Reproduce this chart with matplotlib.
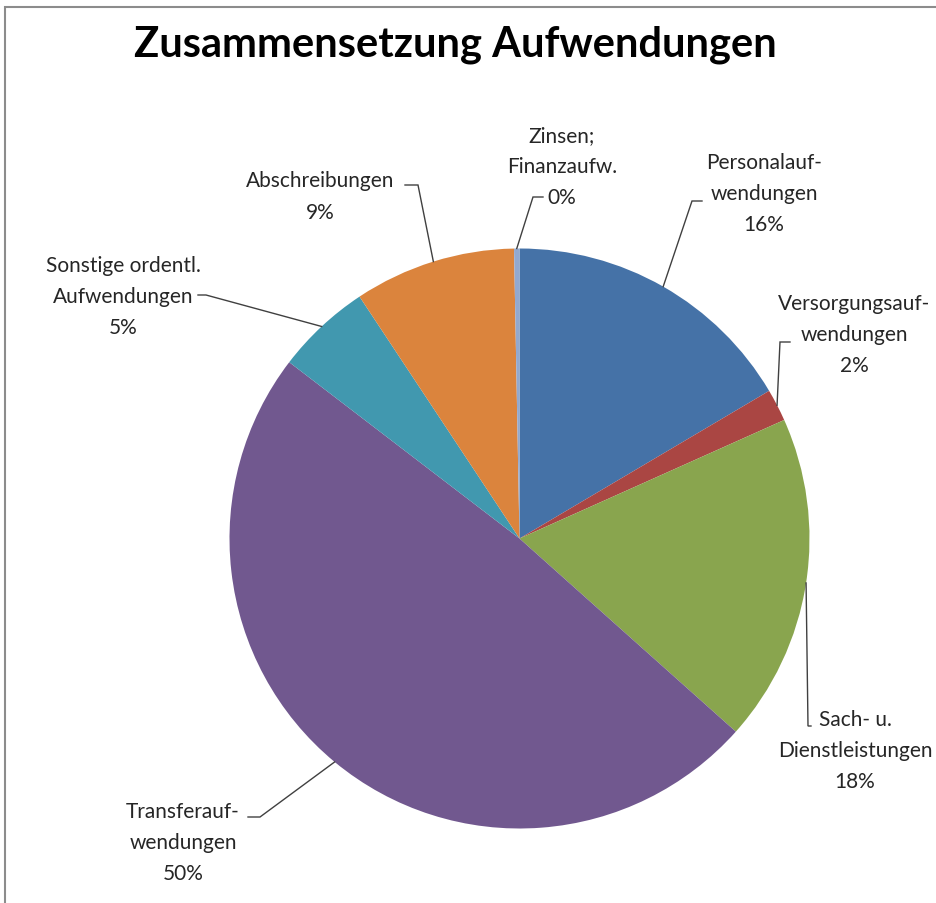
import matplotlib
matplotlib.use("Agg")
import matplotlib.pyplot as plt
import numpy as np
from matplotlib.patches import Rectangle

# ---- data ----
categories = ["Personalauf-\nwendungen", "Versorgungsauf-\nwendungen", "Sach- u.\nDienstleistungen",
              "Transferauf-\nwendungen", "Sonstige ordentl.\nAufwendungen", "Abschreibungen",
              "Zinsen;\nFinanzaufw."]
values = [16.5, 1.8, 18.3, 48.8, 5.3, 9.0, 0.3]
pct_labels = ["16%", "2%", "18%", "50%", "5%", "9%", "0%"]
colors = ["#4572A7", "#AA4643", "#89A54E", "#71588F", "#4198AF", "#DB843D", "#93A9CF"]

W, H = 937, 904
CX, CY, R = 519.5, 539.5, 290.0

# label layout (image pixel coordinates): text centre, elbow, end of leader
label_pos = [(764, 194), (854, 335), (855, 751), (183, 843), (123, 297), (320, 197), (562, 167)]
elbow_pos = [(692, 202), (780, 343), (808, 727), (260, 818), (206, 296), (418, 186), (533, 198)]
end_pos = [(702, 202), (790, 343), (811, 727), (248, 818), (198, 296), (405, 186), (543, 198)]

plt.rcParams['font.family'] = ['Lato', 'DejaVu Sans']

fig = plt.figure(figsize=(W / 100, H / 100), dpi=100)
fig.patch.set_facecolor("white")

# chart frame
fig.patches.append(Rectangle((5 / W, -0.05), 1.2, 1 - 8 / H + 0.05, transform=fig.transFigure,
                             fill=False, edgecolor="#8c8c8c", linewidth=1.5))

ax = fig.add_axes([(CX - R) / W, 1 - (CY + R) / H, 2 * R / W, 2 * R / H])
wedges, _ = ax.pie(values, colors=colors, startangle=90, counterclock=False, radius=1,
                   wedgeprops=dict(linewidth=0))
ax.set_xlim(-1, 1)
ax.set_ylim(-1, 1)
ax.set_aspect("equal")
ax.axis("off")


def to_data(px, py):
    return (px - CX) / R, (CY - py) / R


text_color = "#262626"
for w, cat, pct, lp, el, en in zip(wedges, categories, pct_labels, label_pos, elbow_pos, end_pos):
    mid = np.deg2rad((w.theta1 + w.theta2) / 2)
    sx, sy = np.cos(mid), np.sin(mid)
    ex, ey = to_data(*el)
    nx, ny = to_data(*en)
    ax.plot([sx, ex, nx], [sy, ey, ny], color="#404040", linewidth=1.0, clip_on=False,
            solid_joinstyle="miter")
    tx, ty = to_data(*lp)
    ax.text(tx, ty, cat + "\n" + pct, ha="center", va="center", multialignment="center",
            fontsize=15, color=text_color, linespacing=1.7, clip_on=False)

fig.text(455 / W, 1 - 45 / H, "Zusammensetzung Aufwendungen", ha="center", va="center",
         fontsize=30, fontweight="bold", color="black")

fig.savefig("out.png", dpi=100)
